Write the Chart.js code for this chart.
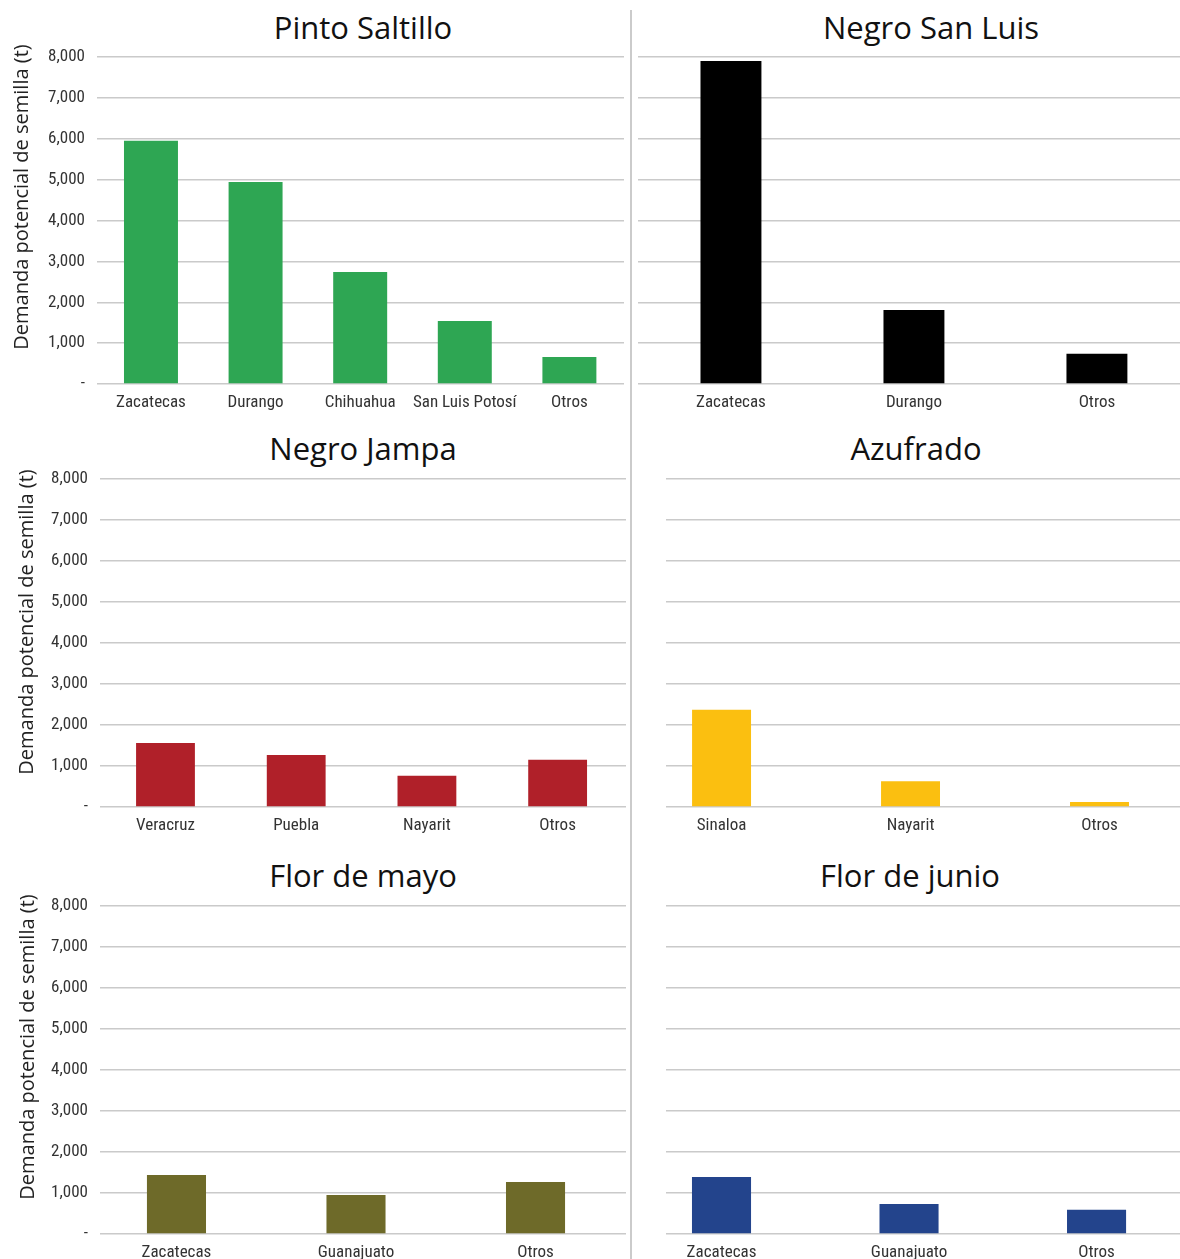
<!DOCTYPE html>
<html>
<head>
<meta charset="utf-8">
<script src="https://cdn.jsdelivr.net/npm/chart.js@4/dist/chart.umd.min.js"></script>
<style>
  body { margin: 0; background: #fff; width: 1180px; height: 1259px; position: relative; overflow: hidden; }
  .panel { position: absolute; }
  .title { position: absolute; font-family: "Open Sans", sans-serif; font-size: 31px; color: #111; transform: translate(-50%, -50%); white-space: nowrap; }
  .ytitle { position: absolute; font-family: "Open Sans", sans-serif; font-size: 20px; color: #222; transform: translate(-50%, -50%) rotate(-90deg); white-space: nowrap; }
  .sep { position: absolute; left: 630px; top: 10px; width: 2px; height: 1249px; background: #cbcbcb; }
</style>
</head>
<body>
<div class="sep"></div>

<div class="title" style="left:363px;top:27px">Pinto Saltillo</div>
<div class="title" style="left:931px;top:27px">Negro San Luis</div>
<div class="title" style="left:363px;top:448px">Negro Jampa</div>
<div class="title" style="left:916px;top:448px">Azufrado</div>
<div class="title" style="left:363px;top:875px">Flor de mayo</div>
<div class="title" style="left:910px;top:875px">Flor de junio</div>

<div class="panel" style="left:0;top:33px;width:630px;height:387px"><canvas id="c1"></canvas></div>
<div class="panel" style="left:632px;top:33px;width:548px;height:387px"><canvas id="c2"></canvas></div>
<div class="panel" style="left:0;top:455px;width:630px;height:385px"><canvas id="c3"></canvas></div>
<div class="panel" style="left:632px;top:455px;width:548px;height:385px"><canvas id="c4"></canvas></div>
<div class="panel" style="left:0;top:882px;width:630px;height:377px"><canvas id="c5"></canvas></div>
<div class="panel" style="left:632px;top:882px;width:548px;height:377px"><canvas id="c6"></canvas></div>

<div class="ytitle" id="yt1" style="left:20px;top:197px"></div>
<div class="ytitle" id="yt3" style="left:25px;top:622px"></div>
<div class="ytitle" id="yt5" style="left:26px;top:1047px"></div>

<script>
// data (toneladas)
const yTickValues = [0, 1000, 2000, 3000, 4000, 5000, 6000, 7000, 8000];
const yTitle = "Demanda potencial de semilla (t)";

const pintoCats = ["Zacatecas", "Durango", "Chihuahua", "San Luis Potosí", "Otros"];
const pintoVals = [5950, 4940, 2740, 1540, 660];

const sanLuisCats = ["Zacatecas", "Durango", "Otros"];
const sanLuisVals = [7900, 1810, 740];

const jampaCats = ["Veracruz", "Puebla", "Nayarit", "Otros"];
const jampaVals = [1560, 1270, 760, 1150];

const azufradoCats = ["Sinaloa", "Nayarit", "Otros"];
const azufradoVals = [2370, 630, 120];

const mayoCats = ["Zacatecas", "Guanajuato", "Otros"];
const mayoVals = [1440, 950, 1270];

const junioCats = ["Zacatecas", "Guanajuato", "Otros"];
const junioVals = [1390, 730, 590];

const tickFont = { family: "'Liberation Sans Narrow', 'Roboto Condensed', 'DejaVu Sans Condensed', sans-serif", size: 17 };
const gridColor = "#cacaca";

// axis titles sit a bit above the plot centre in the original, so they are placed by hand
["yt1", "yt3", "yt5"].forEach(id => { document.getElementById(id).textContent = yTitle; });

// build one bar panel; x is an index axis so the category spacing can follow the original
function makeChart(id, cats, vals, color, opt) {
  const ctx = document.getElementById(id).getContext("2d");
  return new Chart(ctx, {
    type: "bar",
    data: {
      datasets: [{
        data: vals.map((v, i) => ({ x: i, y: v })),
        backgroundColor: color,
        barPercentage: opt.barPct,
        categoryPercentage: 1
      }]
    },
    options: {
      responsive: true,
      maintainAspectRatio: false,
      animation: false,
      layout: { padding: { top: 24, right: opt.padRight, left: 0, bottom: 0 } },
      plugins: { legend: { display: false }, tooltip: { enabled: false } },
      scales: {
        x: {
          type: "linear",
          offset: false,
          min: opt.xMin,
          max: opt.xMax,
          afterBuildTicks: s => { s.ticks = cats.map((c, i) => ({ value: i })); },
          grid: { display: false, offset: false },
          border: { display: false },
          ticks: {
            font: tickFont, color: "#333", padding: 1, maxRotation: 0, autoSkip: false,
            callback: v => cats[v]
          },
          afterFit: s => { s.height = opt.xHeight; }
        },
        y: {
          min: 0,
          max: 8000,
          afterBuildTicks: s => { s.ticks = yTickValues.map(v => ({ value: v })); },
          grid: { color: gridColor, lineWidth: 1.5, drawTicks: false },
          border: { display: false },
          ticks: {
            display: opt.showY,
            font: tickFont,
            color: "#333",
            padding: 12,
            callback: v => v === 0 ? "-" : v.toLocaleString("en-US")
          },
          afterFit: s => { s.width = opt.yWidth; }
        }
      }
    }
  });
}

makeChart("c1", pintoCats, pintoVals, "#2ea653", { barPct: 0.516, padRight: 6, xHeight: 36, yWidth: 97, showY: true, xMin: -0.516, xMax: 4.522 });
makeChart("c2", sanLuisCats, sanLuisVals, "#000000", { barPct: 0.333, padRight: 0, xHeight: 36, yWidth: 6, showY: false, xMin: -0.508, xMax: 2.454 });
makeChart("c3", jampaCats, jampaVals, "#b02029", { barPct: 0.45, padRight: 4, xHeight: 33, yWidth: 100, showY: true, xMin: -0.501, xMax: 3.523 });
makeChart("c4", azufradoCats, azufradoVals, "#fbbf10", { barPct: 0.312, padRight: 0, xHeight: 33, yWidth: 34, showY: false, xMin: -0.294, xMax: 2.426 });
makeChart("c5", mayoCats, mayoVals, "#6e6a29", { barPct: 0.329, padRight: 4, xHeight: 25, yWidth: 100, showY: true, xMin: -0.426, xMax: 2.504 });
makeChart("c6", junioCats, junioVals, "#23448c", { barPct: 0.315, padRight: 0, xHeight: 25, yWidth: 34, showY: false, xMin: -0.296, xMax: 2.445 });
</script>
</body>
</html>
